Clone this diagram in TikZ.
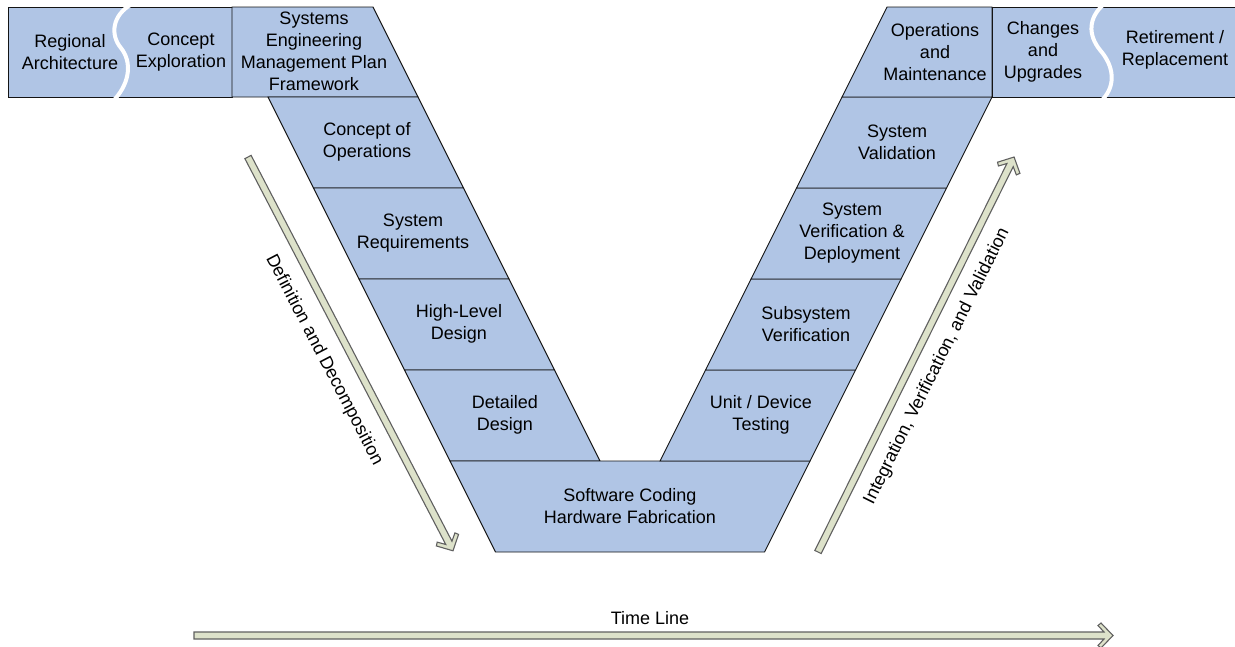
\documentclass[tikz,border=0pt]{standalone}
\usepackage{fontspec}
\setmainfont{Liberation Sans}
\definecolor{boxblue}{RGB}{176,197,229}
\definecolor{arrowfill}{RGB}{221,226,202}
\definecolor{arrowline}{RGB}{96,96,96}
\definecolor{boxline}{RGB}{20,20,20}
\tikzset{
  boxshape/.style={fill=boxblue,draw=boxline,line width=0.9pt,line join=miter},
  lbl/.style={align=center,inner sep=0pt,font=\fontsize{18}{22}\selectfont,text=black},
  arrowshape/.style={fill=arrowfill,draw=arrowline,line width=1.1pt,line join=miter},
  wave/.style={draw=white,line width=4pt}
}
\newcommand\hollowarrow[3]{%
  \begin{scope}[shift={#1},rotate=#2]
    \draw[arrowshape] (0,3.5) -- ({#3-9},3.5) -- ({#3-15},10) -- ({#3-12},12.5) -- (#3,0)
      -- ({#3-12},-12.5) -- ({#3-15},-10) -- ({#3-9},-3.5) -- (0,-3.5) -- cycle;
  \end{scope}}
\begin{document}
\begin{tikzpicture}[x=1pt,y=-1pt]
\useasboundingbox (0,0) rectangle (1235,646);
% top left row
\draw[boxshape] (8,7) rectangle (232,97);
\draw[boxshape] (232,7) -- (373,7) -- (418,97) -- (232,97) -- cycle;
% left arm
\draw[boxshape] (268,97) -- (418,97) -- (463.5,188) -- (313.5,188) -- cycle;
\draw[boxshape] (313.5,188) -- (463.5,188) -- (509,279) -- (359,279) -- cycle;
\draw[boxshape] (359,279) -- (509,279) -- (554.5,370) -- (404.5,370) -- cycle;
\draw[boxshape] (404.5,370) -- (554.5,370) -- (600,461) -- (450,461) -- cycle;
% bottom
\draw[boxshape] (450,461) -- (810,461) -- (764.5,552) -- (495.5,552) -- cycle;
% right arm
\draw[boxshape] (705.5,370) -- (855.5,370) -- (810,461) -- (660,461) -- cycle;
\draw[boxshape] (751,279) -- (901,279) -- (855.5,370) -- (705.5,370) -- cycle;
\draw[boxshape] (796.5,188) -- (946.5,188) -- (901,279) -- (751,279) -- cycle;
\draw[boxshape] (842,97) -- (992,97) -- (946.5,188) -- (796.5,188) -- cycle;
% top right row
\draw[boxshape] (887,7) -- (992,7) -- (992,97) -- (842,97) -- cycle;
\fill[boxblue] (992,7) rectangle (1235,97);
\draw[boxline,line width=0.9pt] (1236,7) -- (992,7) -- (992,97) -- (1236,97);
% wavy separators
\draw[wave] (132,4) .. controls (112,15) and (110,35) .. (121,48) .. controls (132,62) and (130,82) .. (115,99);
\draw[wave] (1104,4) .. controls (1088,18) and (1088,35) .. (1100,50) .. controls (1114,66) and (1116,85) .. (1103,99);
% labels
\node[lbl] (ra) at (70,52) {Regional\\Architecture};
\node[lbl] (ce) at (181,52) {Concept\\Exploration};
\node[lbl] (semp) at (314,51) {Systems\\Engineering\\Management Plan\\Framework};
\node[lbl] (conops) at (367,142) {Concept of\\Operations};
\node[lbl] (sysreq) at (413,233) {System\\Requirements};
\node[lbl] (hld) at (459,324) {High-Level\\Design};
\node[lbl] (dd) at (505,415) {Detailed\\Design};
\node[lbl] (code) at (630,506) {Software Coding\\Hardware Fabrication};
\node[lbl] (unit) at (761,415) {Unit / Device\\Testing};
\node[lbl] (subv) at (806,324) {Subsystem\\Verification};
\node[lbl] (sysv) at (852,233) {System\\Verification \&\\Deployment};
\node[lbl] (sval) at (897,142) {System\\Validation};
\node[lbl] (om) at (935,52) {Operations\\and\\Maintenance};
\node[lbl] (cu) at (1043,52) {Changes\\and\\Upgrades};
\node[lbl] (rr) at (1175,50) {Retirement /\\Replacement};
% arrows
\hollowarrow{(248,157)}{-62.5}{444}
\hollowarrow{(818,552)}{63.6}{441}
\hollowarrow{(194,635.5)}{0}{919}
\node[lbl,rotate=-62.5] (dlab) at (324,360) {Definition and Decomposition};
\node[lbl,rotate=63.6] (ilab) at (937,366) {Integration, Verification, and Validation};
\node[lbl] (tlab) at (650,618) {Time Line};
\end{tikzpicture}
\end{document}
